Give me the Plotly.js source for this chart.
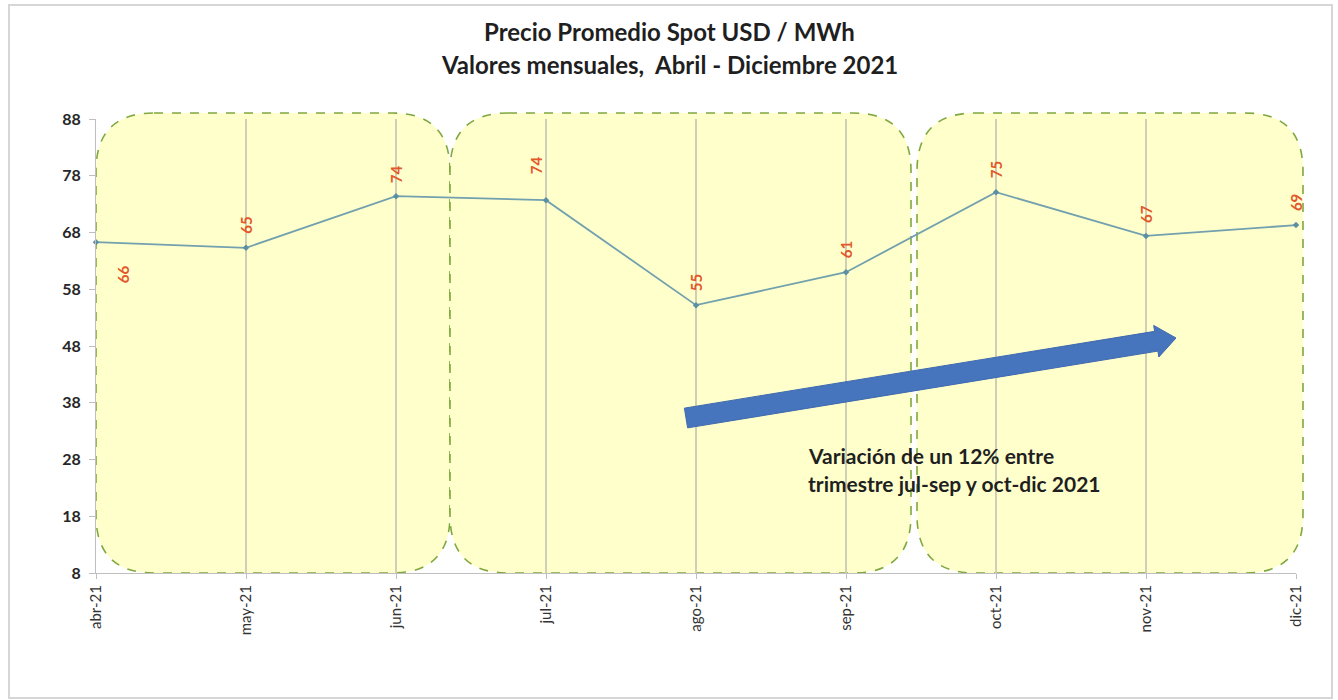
<!DOCTYPE html>
<html>
<head>
<meta charset="utf-8">
<script src="https://cdn.plot.ly/plotly-3.0.1.min.js"></script>
<style>html,body{margin:0;padding:0;background:#fff;}#chart{width:1338px;height:700px;}</style>
</head>
<body>
<div id="chart"></div>
<script>
// ---- data ----
const months = ["abr-21","may-21","jun-21","jul-21","ago-21","sep-21","oct-21","nov-21","dic-21"];
const prices = [66.3, 65.3, 74.4, 73.7, 55.2, 61.0, 75.1, 67.4, 69.3];
const priceLabels = ["66","65","74","74","55","61","75","67","69"];
const yTicks = [8,18,28,38,48,58,68,78,88];
const titleLines = ["Precio Promedio Spot USD / MWh", "Valores mensuales,  Abril - Diciembre 2021"];
const noteLines = ["Variación de un 12% entre", "trimestre jul-sep y oct-dic 2021"];

// ---- layout geometry (pixels) ----
const W = 1338, H = 700;
const M = {l: 96, r: 42, t: 119, b: 127};
const PW = W - M.l - M.r, PH = H - M.t - M.b;
const px = x => (x - M.l) / PW;
const py = y => (H - M.b - y) / PH;

// label offsets (style, pixels)
const labelShiftX = [27, 0, 0, -10, 0, 0, 0, 0, 0];
const labelShiftY = [-32, 22, 22, 35, 22, 22, 22, 22, 22];

function roundRect(x0, y0, x1, y1, r) {
  const P = (x, y) => px(x).toFixed(5) + "," + py(y).toFixed(5);
  return "M" + P(x0 + r, y0) + " L" + P(x1 - r, y0) + " Q" + P(x1, y0) + " " + P(x1, y0 + r) +
    " L" + P(x1, y1 - r) + " Q" + P(x1, y1) + " " + P(x1 - r, y1) +
    " L" + P(x0 + r, y1) + " Q" + P(x0, y1) + " " + P(x0, y1 - r) +
    " L" + P(x0, y0 + r) + " Q" + P(x0, y0) + " " + P(x0 + r, y0) + " Z";
}
function poly(pts) {
  return pts.map((p, i) => (i ? "L" : "M") + px(p[0]).toFixed(5) + "," + py(p[1]).toFixed(5)).join(" ") + " Z";
}
// block arrow
const a0 = [686, 418], tip = [1176, 338];
const dx = tip[0] - a0[0], dy = tip[1] - a0[1], len = Math.hypot(dx, dy);
const u = [dx / len, dy / len], n = [-u[1], u[0]];
const hw = 10, hh = 16, hl = 20;
const base = [tip[0] - hl * u[0], tip[1] - hl * u[1]];
const off = (p, k) => [p[0] + k * n[0], p[1] + k * n[1]];
const arrowPath = poly([off(a0, hw), off(base, hw), off(base, hh), tip, off(base, -hh), off(base, -hw), off(a0, -hw)]);

const boxStyle = {type: "path", xref: "paper", yref: "paper", layer: "below",
  fillcolor: "#FFFFCC", line: {color: "#7FA83F", width: 1.6, dash: "dash"}};

const shapes = [
  {type: "rect", xref: "paper", yref: "paper", layer: "below",
   x0: px(9), x1: px(1332), y0: py(5), y1: py(698),
   line: {color: "#D6D6D6", width: 2}, fillcolor: "rgba(0,0,0,0)"},
  Object.assign({path: roundRect(96, 113, 450, 573, 58)}, boxStyle),
  Object.assign({path: roundRect(450, 113, 911, 573, 58)}, boxStyle),
  Object.assign({path: roundRect(917, 113, 1303, 573, 58)}, boxStyle),
  {type: "path", xref: "paper", yref: "paper", layer: "above", path: arrowPath,
   fillcolor: "#4674BD", line: {color: "#3E69AE", width: 1}}
];

const font = "Lato, 'Open Sans', sans-serif";
const annotations = [];
titleLines.forEach((t, i) => annotations.push({
  xref: "paper", yref: "paper", x: px(669), y: py(31 + i * 33), text: "<b>" + t + "</b>",
  showarrow: false, xanchor: "center", yanchor: "middle",
  font: {family: font, size: 24, color: "#1F1F1F"}
}));
noteLines.forEach((t, i) => annotations.push({
  xref: "paper", yref: "paper", x: px(806), y: py(455 + i * 28), text: "<b>" + t + "</b>",
  showarrow: false, xanchor: "left", yanchor: "middle",
  font: {family: font, size: 21, color: "#1F1F1F"}
}));
months.forEach((m, i) => annotations.push({
  x: m, y: prices[i], xref: "x", yref: "y", text: "<b>" + priceLabels[i] + "</b>",
  showarrow: false, textangle: -90, xshift: labelShiftX[i], yshift: labelShiftY[i],
  font: {family: font, size: 15, color: "#E2572B"}
}));

const trace = {
  x: months, y: prices, type: "scatter", mode: "lines+markers",
  line: {color: "#72A0AE", width: 1.8},
  marker: {symbol: "diamond", size: 5, color: "#5B8FA3"},
  hoverinfo: "x+y", cliponaxis: false
};

const layout = {
  width: W, height: H, margin: M,
  paper_bgcolor: "#FFFFFF", plot_bgcolor: "rgba(0,0,0,0)",
  showlegend: false,
  font: {family: font, color: "#404040"},
  xaxis: {
    type: "category", range: [0, months.length - 1], tickangle: -90,
    showgrid: true, gridcolor: "#CFCFB8", gridwidth: 1.5,
    showline: true, linecolor: "#BFBFBF", linewidth: 1,
    ticks: "outside", ticklen: 5, tickcolor: "#BFBFBF",
    tickfont: {family: font, size: 15, color: "#333333"},
    zeroline: false, fixedrange: true
  },
  yaxis: {
    range: [8, 88], tickvals: yTicks, ticktext: yTicks.map(v => "<b>" + v + "</b>"),
    showgrid: false, showline: true, linecolor: "#BFBFBF", linewidth: 1,
    ticks: "outside", ticklen: 6, tickcolor: "#BFBFBF", ticklabelstandoff: 5,
    tickfont: {family: font, size: 16, color: "#262626"},
    zeroline: false, fixedrange: true
  },
  shapes: shapes, annotations: annotations
};

Plotly.newPlot("chart", [trace], layout, {displayModeBar: false, staticPlot: true});
</script>
</body>
</html>
